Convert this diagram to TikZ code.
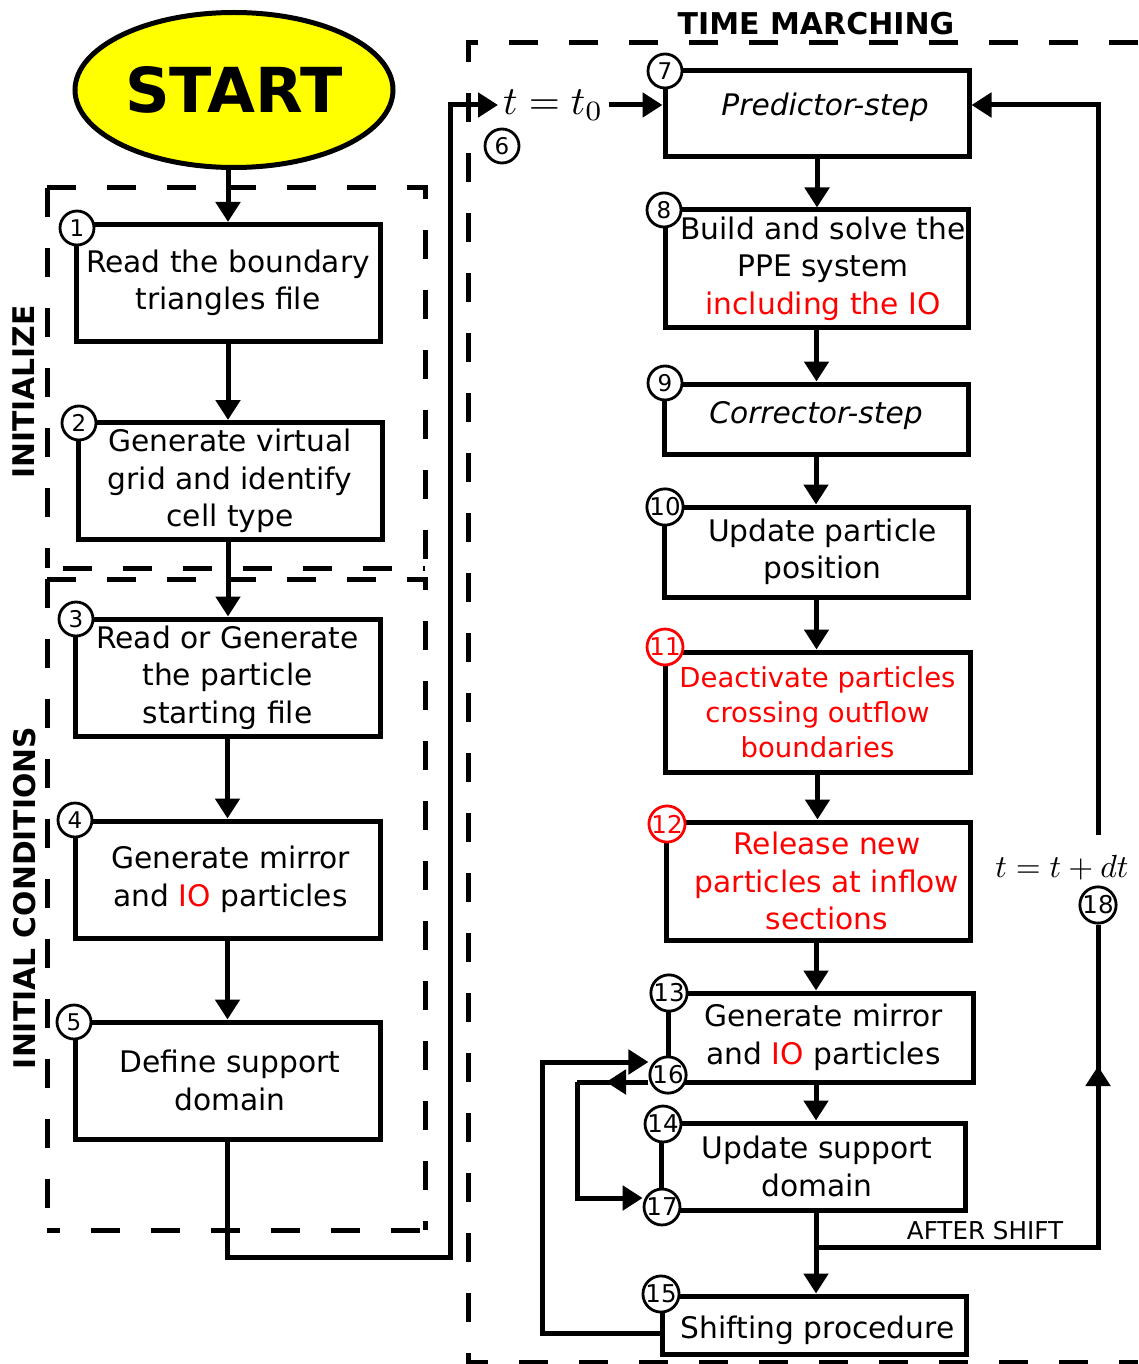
\documentclass[tikz,border=0pt]{standalone}
\usepackage{graphicx}
\usepackage[no-math]{fontspec}
\setmainfont{DejaVu Sans}
\usetikzlibrary{arrows.meta,shapes.geometric}
\definecolor{ioRed}{RGB}{255,0,0}
\definecolor{startYellow}{RGB}{255,255,0}
\newcommand{\fs}[2]{\fontsize{#1}{#2}\selectfont}
% push a centred line to the right by half the given amount
\newcommand{\pad}[1]{\hspace*{#1pt}}

\begin{document}
\begin{tikzpicture}[x=1pt,y=-1pt,
  stepbox/.style={draw, line width=5pt, fill=white, rectangle, inner sep=0pt, align=center, font=\fs{29.7}{37.5}},
  numc/.style={circle, draw, line width=2.8pt, fill=white, minimum size=34pt, inner sep=0pt, font=\fs{23}{23}},
  numw/.style={numc, font=\fs{24.5}{24.5}},
  hot/.style={draw=ioRed, text=ioRed},
  link/.style={line width=5pt},
  arr/.style={line width=5pt, -{Triangle[length=20pt,width=24pt]}},
  frame/.style={line width=5pt, dash pattern=on 29pt off 31pt},
  tag/.style={font=\bfseries\fs{29.8}{30}, inner sep=0pt},
]
\useasboundingbox (0,0) rectangle (1138,1364);

% dashed phase frames and their titles
\draw[frame] (47,188) -- (425,188) -- (425,568);
\draw[frame] (47,188) -- (47,568);
\draw[frame, dash phase=44pt] (47,568) -- (425,568);
\draw[frame] (47,579) -- (425,579) -- (425,1230);
\draw[frame] (47,579) -- (47,1230);
\draw[frame, dash phase=16pt] (47,1230) -- (425,1230);
\draw[frame] (1138,43) -- (468,43) -- (468,1362) -- (1138,1362);
\node[tag, rotate=90] (lblInit) at (24,392) {INITIALIZE};
\node[tag, rotate=90] (lblCond) at (25,898) {INITIAL CONDITIONS};
\node[font=\bfseries\fs{30}{30}, inner sep=0pt] (lblTime) at (816,24) {TIME MARCHING};

% start terminal
\node[ellipse, draw, line width=5pt, fill=startYellow, minimum width=318pt, minimum height=155pt,
      inner sep=0pt, font=\bfseries\fs{62}{62}] (start) at (234,90) {START};

% initialisation and initial conditions
\node[stepbox, minimum width=304pt, minimum height=117pt] (b1) at (228,283) {Read the boundary\\triangles file};
\node[stepbox, minimum width=304pt, minimum height=117pt] (b2) at (230,481) {Generate virtual\\grid and identify\\cell type};
\node[stepbox, minimum width=305pt, minimum height=117pt] (b3) at (227.5,677.5) {Read or Generate\\the particle\\starting file};
\node[stepbox, minimum width=305pt, minimum height=117pt] (b4) at (227.5,879.5) {\pad{6}Generate mirror\\\pad{6}and \textcolor{ioRed}{IO} particles};
\node[stepbox, minimum width=305pt, minimum height=117pt] (b5) at (227.5,1080.5) {\pad{5}Define support\\\pad{5}domain};

% time marching loop
\node[stepbox, minimum width=304pt, minimum height=86pt, text height=22.6pt, text depth=19pt,
      font=\itshape\fs{29.7}{37.5}] (b7) at (817,114) {\pad{16}Predictor-step};
\node[stepbox, minimum width=303pt, minimum height=117pt] (b8) at (816.5,268.5) {\pad{13}Build and solve the\\\pad{13}PPE system\\\pad{13}\textcolor{ioRed}{including the IO}};
\node[stepbox, minimum width=304pt, minimum height=70pt, text height=22.6pt, text depth=13pt,
      font=\itshape\fs{29.7}{37.5}] (b9) at (816,419) {Corrector-step};
\node[stepbox, minimum width=304pt, minimum height=90pt] (b10) at (816.5,552) {\pad{12}Update particle\\\pad{12}position};
\node[stepbox, minimum width=305pt, minimum height=120pt, text=ioRed, font=\fs{27.5}{35}] (b11) at (817.5,712) {Deactivate particles\\crossing outflow\\boundaries};
\node[stepbox, minimum width=304pt, minimum height=118pt, text=ioRed] (b12) at (818,881) {\pad{18}Release new\\\pad{18}particles at inflow\\\pad{18}sections};
\node[stepbox, minimum width=305pt, minimum height=89pt] (b13) at (820.5,1037.5) {\pad{6}Generate mirror\\\pad{6}and \textcolor{ioRed}{IO} particles};
\node[stepbox, minimum width=304pt, minimum height=87pt] (b14) at (813,1166.5) {\pad{8}Update support\\\pad{8}domain};
\node[stepbox, minimum width=304pt, minimum height=58pt, text height=34pt, text depth=7pt] (b15) at (814,1325) {\pad{7}Shifting procedure};

% step numbers
\node[numc] (c1) at (77,228) {1};
\node[numc] (c2) at (79,423) {2};
\node[numc] (c3) at (76,619) {3};
\node[numc] (c4) at (75,820) {4};
\node[numc] (c5) at (74,1022) {5};
\node[numc] (c6) at (502,146) {6};
\node[numc] (c7) at (665,71) {7};
\node[numc] (c8) at (664,210) {8};
\node[numc] (c9) at (665,383) {9};
\node[numw] (c10) at (665,507) {10};
\node[numw, hot] (c11) at (665,647) {11};
\node[numw, hot] (c12) at (667,824) {12};
\node[numw] (c13) at (669,993) {13};
\node[numw] (c16) at (668,1075) {16};
\node[numw] (c14) at (663,1124) {14};
\node[numw] (c17) at (662,1207) {17};
\node[numw] (c15) at (661,1294) {15};
\node[numw] (c18) at (1098,905) {18};

% time labels
\node[anchor=west, inner xsep=5pt, inner ysep=0pt] (t0) at (498,105) {\scalebox{4}{$t=t_0$}};
\node[inner sep=0pt] (tdt) at (1062,868) {\scalebox{3.2}{$t=t+dt$}};
\node[inner sep=0pt, font=\fs{24.6}{25}] (after) at (985,1231) {AFTER SHIFT};

% left column flow
\draw[arr] (start.south -| b1.north) -- (b1.north);
\draw[arr] (b1.south) -- (b1.south |- b2.north);
\draw[arr] (b1.south |- b2.south) -- (b1.south |- b3.north);
\draw[arr] (b3.south) -- (b3.south |- b4.north);
\draw[arr] (b4.south) -- (b4.south |- b5.north);
\coordinate (j1) at (228,1257);
\coordinate (j2) at (450,1257);
\draw[arr] (b5.south) -- (b5.south |- j1) -- (j2) |- (t0.west);
\draw[arr] (t0.east) -- (b7.west |- t0.east);

% right column flow
\draw[arr] (b7.south) -- (b7.south |- b8.north);
\draw[arr] (b8.south) -- (b8.south |- b9.north);
\draw[arr] (b9.south) -- (b9.south |- b10.north);
\draw[arr] (b10.south) -- (b10.south |- b11.north);
\draw[arr] (b11.south) -- (b11.south |- b12.north);
\coordinate (colR) at (816,0);
\draw[arr] (b12.south -| colR) -- (b13.north -| colR);
\draw[arr] (b13.south -| colR) -- (b14.north -| colR);
\draw[arr] (b14.south -| colR) -- (b15.north -| colR);

% return to the predictor after shifting
\coordinate (br) at (816,1247);
\coordinate (rb) at (1098,1247);
\coordinate (ru) at (1098,1066);
\draw[link] (br) -- (rb) -- (c18.south);
\draw[arr] (rb) -- (ru);
\coordinate (tt) at (1098,835);
\coordinate (tr) at (1098,105);
\draw[arr] (tt) -- (tr) -- (b7.east |- tr);

% inner loop 16 -> 17
\coordinate (l1) at (577,1082);
\coordinate (l2) at (577,1198);
\coordinate (m16) at (606,1082);
\draw[link] (c16.west |- l1) -- (l1);
\draw[arr] (c16.west |- l1) -- (m16);
\draw[arr] (l1) -- (l2) -- (c17.west |- l2);

% outer loop 15 -> 16
\coordinate (o1) at (542,1333);
\coordinate (o2) at (542,1062);
\draw[arr] (b15.west |- o1) -- (o1) -- (o2) -- (c16.west |- o2);
\end{tikzpicture}
\end{document}
